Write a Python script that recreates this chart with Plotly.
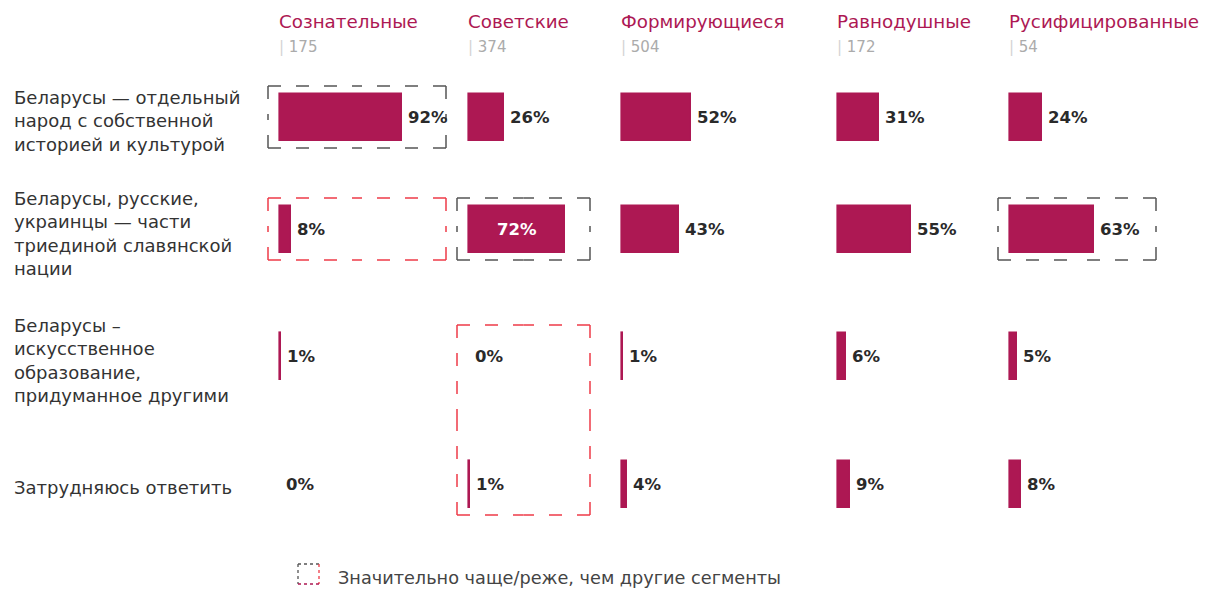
import plotly.graph_objects as go

# ---------------- data ----------------
segments = ["Сознательные", "Советские", "Формирующиеся", "Равнодушные", "Русифицированные"]
sample_sizes = [175, 374, 504, 172, 54]
answers = [
    "Беларусы — отдельный<br>народ с собственной<br>историей и культурой",
    "Беларусы, русские,<br>украинцы — части<br>триединой славянской<br>нации",
    "Беларусы –<br>искусственное<br>образование,<br>придуманное другими",
    "Затрудняюсь ответить",
]
vals_separate_nation = [92, 26, 52, 31, 24]
vals_triune_nation = [8, 72, 43, 55, 63]
vals_artificial = [1, 0, 1, 6, 5]
vals_hard_to_say = [0, 1, 4, 9, 8]
values = [vals_separate_nation, vals_triune_nation, vals_artificial, vals_hard_to_say]
# cells whose label sits inside the bar: (answer index, segment index)
labels_inside = [(1, 1)]
# significance highlights: (segment, first answer, last answer, kind)
highlights = [
    (0, 0, 0, "more"),
    (0, 1, 1, "less"),
    (1, 1, 1, "more"),
    (1, 2, 3, "less"),
    (4, 1, 1, "more"),
]
legend_text = "Значительно чаще/реже, чем другие сегменты"

# ---------------- style / layout ----------------
W, H = 1206, 590
BAR = "#ad1853"
HEAD = "#ad1853"
TXT = "#2a2a2a"
GREY_BOX = "#555555"
RED_BOX = "#ee3b48"
FONT = "DejaVu Sans"
SCALE = 1.33  # px per percent
col_left = [280, 469, 622, 838, 1010]
col_right = [166, 121, 150, 150, 146]
PAD = 12
row_center = [117, 229, 356, 484]
HALF = 31
BAR_H = 47


def px_x(p):
    return p / W


def px_y(p):
    return 1 - p / H


fig = go.Figure()
layout = {}
annotations = []
shapes = []

for r in range(4):
    cat = f"a{r}"
    for c in range(5):
        i = r * 5 + c + 1
        sx = "" if i == 1 else str(i)
        xn, yn = "x" + sx, "y" + sx
        v = values[r][c]
        fig.add_trace(go.Bar(
            x=[v], y=[cat], orientation="h", xaxis=xn, yaxis=yn,
            width=BAR_H / (2 * HALF),
            marker=dict(color=BAR, line=dict(color=BAR, width=1.6 if v > 0 else 0)),
            hoverinfo="skip", showlegend=False,
        ))
        layout["xaxis" + sx] = dict(
            domain=[px_x(col_left[c] - PAD), px_x(col_left[c] + col_right[c])],
            range=[-PAD / SCALE, col_right[c] / SCALE],
            visible=False, fixedrange=True, anchor=yn,
        )
        layout["yaxis" + sx] = dict(
            domain=[px_y(row_center[r] + HALF), px_y(row_center[r] - HALF)],
            range=[-0.5, 0.5], type="category", categoryarray=[cat],
            visible=False, fixedrange=True, anchor=xn,
        )
        if (r, c) in labels_inside:
            annotations.append(dict(
                x=v / 2, y=cat, xref=xn, yref=yn, text=f"{v}%", showarrow=False,
                xanchor="center", yanchor="middle",
                font=dict(family=FONT, size=16.5, color="white", weight="bold"),
            ))
        else:
            annotations.append(dict(
                x=v, y=cat, xref=xn, yref=yn, text=f"{v}%", showarrow=False,
                xanchor="left", yanchor="middle", xshift=4,
                font=dict(family=FONT, size=16.5, color=TXT, weight="bold"),
            ))

# column headers
for c in range(5):
    annotations.append(dict(
        x=px_x(col_left[c]), y=px_y(22), xref="paper", yref="paper",
        text=segments[c], showarrow=False, xanchor="left", yanchor="middle", xshift=-3,
        font=dict(family=FONT, size=18.3, color=HEAD),
    ))
    annotations.append(dict(
        x=px_x(col_left[c]), y=px_y(47), xref="paper", yref="paper",
        text=f"<span style='color:#d4d4d4'>|</span> {sample_sizes[c]}", showarrow=False,
        xanchor="left", yanchor="middle", xshift=-3,
        font=dict(family=FONT, size=15, color="#ababab"),
    ))

# row labels
for r in range(4):
    annotations.append(dict(
        x=px_x(12), y=px_y(row_center[r] + 4), xref="paper", yref="paper",
        text=answers[r], showarrow=False, xanchor="left", yanchor="middle", align="left",
        font=dict(family=FONT, size=18, color="#333333"),
    ))


def dashed_box(x0, y0, x1, y1, color):
    """Draw a box from 8 half-edges so that each corner gets an L-shaped dash."""
    xm, ym = (x0 + x1) / 2, (y0 + y1) / 2
    segs = [
        (x0, y0, xm, y0), (x1, y0, xm, y0),
        (x0, y1, xm, y1), (x1, y1, xm, y1),
        (x0, y0, x0, ym), (x0, y1, x0, ym),
        (x1, y0, x1, ym), (x1, y1, x1, ym),
    ]
    for a, b, cc, d in segs:
        shapes.append(dict(
            type="line", xref="paper", yref="paper",
            x0=px_x(a), y0=px_y(b), x1=px_x(cc), y1=px_y(d),
            line=dict(color=color, width=1.5, dash="13px,15px"),
        ))


for seg, r0, r1, kind in highlights:
    color = GREY_BOX if kind == "more" else RED_BOX
    dashed_box(col_left[seg] - PAD, row_center[r0] - HALF,
               col_left[seg] + col_right[seg], row_center[r1] + HALF, color)

# legend icon
lx0, ly0, lx1, ly1 = 298, 564, 319, 584
for a, b, cc, d, col in [
    (lx0, ly0, lx1, ly0, GREY_BOX), (lx0, ly0, lx0, ly1, GREY_BOX),
    (lx1, ly0, lx1, ly1, RED_BOX), (lx0, ly1, lx1, ly1, BAR),
]:
    shapes.append(dict(
        type="line", xref="paper", yref="paper",
        x0=px_x(a), y0=px_y(b), x1=px_x(cc), y1=px_y(d),
        line=dict(color=col, width=1.3, dash="3px,3px"),
    ))
annotations.append(dict(
    x=px_x(336), y=px_y(578), xref="paper", yref="paper", text=legend_text,
    showarrow=False, xanchor="left", yanchor="middle",
    font=dict(family=FONT, size=17.7, color="#444444"),
))

fig.update_layout(
    width=W, height=H,
    margin=dict(l=0, r=0, t=0, b=0),
    paper_bgcolor="white", plot_bgcolor="white",
    annotations=annotations, shapes=shapes,
    bargap=0,
    **layout,
)
fig.write_html(
    "out.html",
    config={"displayModeBar": False},
    post_script="document.body.style.margin='0';document.body.style.overflow='hidden';",
)
